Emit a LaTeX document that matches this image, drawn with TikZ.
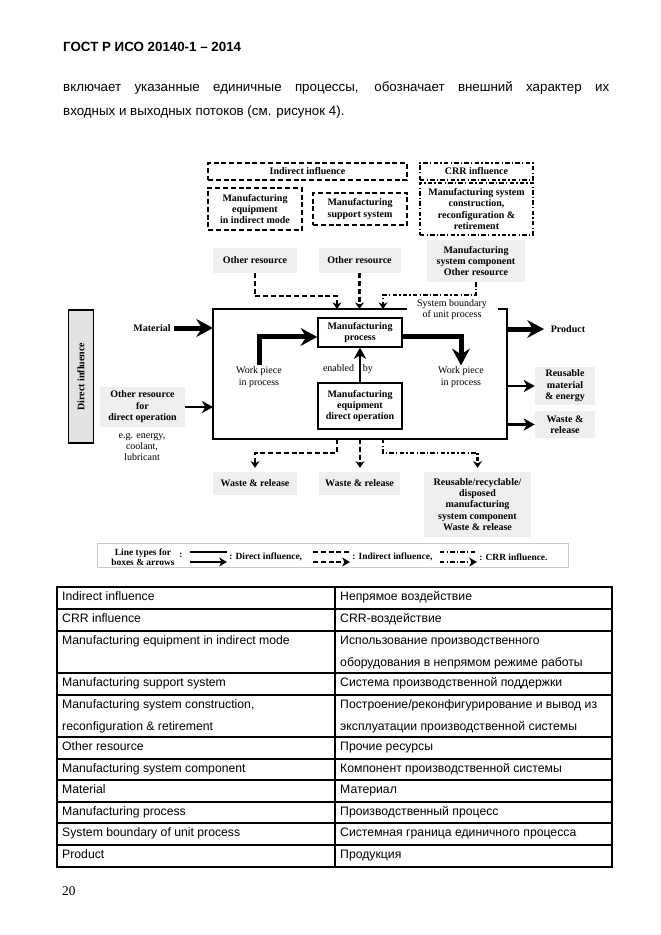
\documentclass[tikz,border=0pt]{standalone}
\usepackage{fontspec}
\setmainfont{Liberation Serif}
\newfontfamily\arialfont{Liberation Sans}
\usetikzlibrary{arrows.meta}

\definecolor{boxgray}{HTML}{EFEFEF}
\definecolor{sidegray}{HTML}{E2E2E2}
\definecolor{legendgray}{HTML}{C8C8C8}

\tikzset{
  lbl/.style={font=\fontsize{9}{10.3}\selectfont\bfseries, align=center, inner sep=1pt},
  txt/.style={font=\fontsize{9}{10.3}\selectfont, align=center, inner sep=1pt},
  graybox/.style={lbl, fill=boxgray},
  ind/.style={line width=2pt, dash pattern=on 4.5pt off 2.5pt},
  crr/.style={line width=2pt, dash pattern=on 4pt off 2pt on 1.2pt off 2pt},
  dir/.style={line width=1.6pt},
  dtip/.style={-{Stealth[length=6pt,width=8pt,inset=2pt]}},
  flow/.style={line width=4.5pt, -{Stealth[length=15pt,width=16pt,inset=5pt]}},
  midflow/.style={line width=2.5pt, -{Stealth[length=10pt,width=11pt,inset=3pt]}},
  cell/.style={font=\arialfont\fontsize{11}{13}\selectfont, anchor=base west, inner sep=0pt},
  para/.style={font=\arialfont\fontsize{12}{14}\selectfont, anchor=base west, inner sep=0pt},
}

\begin{document}
\begin{tikzpicture}[x=0.9pt,y=-0.9pt]
\fill[white] (0,0) rectangle (661,935);

% page head and text
\node[para, font=\arialfont\fontsize{12}{14}\selectfont\bfseries] (head) at (63,51) {ГОСТ Р ИСО 20140-1 – 2014};
\node[para] (par1) at (63,91.5) {\makebox[491.4pt][s]{включает указанные единичные процессы, обозначает внешний характер их}};
\node[para] (par2) at (63,115.5) {входных и выходных потоков (см. рисунок 4).};

% indirect and CRR boxes
\node[lbl, draw, ind, minimum width=179.1pt, minimum height=15.3pt] (indinf) at (307.5,171.5) {Indirect influence};
\node[lbl, draw, crr, minimum width=101.7pt, minimum height=15.3pt] (crrinf) at (476.5,171.5) {CRR influence};
\node[lbl, draw, ind, minimum width=84.6pt, minimum height=37.8pt] (meim) at (255,209) {Manufacturing\\equipment\\in indirect mode};
\node[lbl, draw, ind, minimum width=84.6pt, minimum height=28.8pt] (mss) at (360,209) {Manufacturing\\support system};
\node[lbl, draw, crr, minimum width=101.7pt, minimum height=46.8pt] (mscrr) at (476.5,209) {Manufacturing system\\construction,\\reconfiguration \&\\retirement};

\node[graybox, minimum width=75.6pt, minimum height=22.5pt] (or1) at (255,260.5) {Other resource};
\node[graybox, minimum width=73.8pt, minimum height=22.5pt] (or2) at (359.5,260.5) {Other resource};
\node[graybox, minimum width=88.2pt, minimum height=37.8pt] (msc) at (476,261) {Manufacturing\\system component\\Other resource};

% unit process
\node[minimum width=264.6pt, minimum height=117pt, outer sep=0pt] (sysbox) at (360,374) {};
\draw[line width=1.3pt] (sysbox.north west) ++(194,0) -- (sysbox.north west) -- (sysbox.south west)
  -- (sysbox.south east) -- (sysbox.north east) -- ++(-9,0);
\node[txt] (sbound) at (452,309.5) {System boundary\\of unit process};

\node[lbl, draw, line width=1.2pt, minimum width=75.6pt, minimum height=26.1pt] (mproc) at (360,332.5) {Manufacturing\\process};
\node[lbl, draw, line width=1.8pt, minimum width=75.6pt, minimum height=41.4pt] (mequip) at (360,406) {Manufacturing\\equipment\\direct operation};
\node[txt] (enab) at (348,369) {enabled\hspace{8pt}by};
\node[txt] (wp1) at (259,377) {Work piece\\in process};
\node[txt] (wp2) at (461,377) {Work piece\\in process};

\draw[midflow] (mequip.north) -- (mproc.south);
\draw[flow] (wp1.north) |- ([yshift=-4pt]mproc.west);
\draw[flow] ([yshift=-4pt]mproc.east) -| (wp2.north);

% inputs
\node[lbl] (material) at (152,328) {Material};
\node[lbl, draw, line width=1.2pt, fill=sidegray, rotate=90, minimum width=119.7pt, minimum height=22.5pt] (dirinf) at (81,376.5) {Direct influence};
\node[graybox, minimum width=76.5pt, minimum height=36pt] (ordo) at (142.5,407) {Other resource\\for\\direct operation};
\node[txt] (eg) at (142,447) {e.g. energy,\\coolant,\\lubricant};

\draw[flow, shorten <=2pt] (material.east) -- (material.east -| sysbox.west);
\draw[midflow] (ordo.east) -- (ordo.east -| sysbox.west);

% outputs
\node[lbl] (product) at (568,329) {Product};
\node[graybox, minimum width=54pt, minimum height=34.2pt] (reuse) at (565,386) {Reusable\\material\\\& energy};
\node[graybox, minimum width=54pt, minimum height=24.3pt] (waster) at (565,424.5) {Waste \&\\release};

\draw[flow, shorten >=5pt] (product.west -| sysbox.east) -- (product.west);
\draw[midflow] (reuse.west -| sysbox.east) -- (reuse.west);
\draw[midflow] (waster.west -| sysbox.east) -- (waster.west);

\node[graybox, minimum width=75.6pt, minimum height=20.7pt] (wr1) at (255,483.5) {Waste \& release};
\node[graybox, minimum width=72.9pt, minimum height=20.7pt] (wr2) at (359.5,483.5) {Waste \& release};
\node[graybox, minimum width=96.3pt, minimum height=58.5pt] (rrd) at (477.5,504.5) {Reusable/recyclable/\\disposed\\manufacturing\\system component\\Waste \& release};

% indirect and CRR connectors
\coordinate (in1) at (337,309);
\coordinate (in3) at (383,309);
\coordinate (out1) at (337,439);
\coordinate (out3) at (383,439);
\draw[ind, dtip] (or1.south) -- ++(0,23) -| (in1);
\draw[ind, dtip] (or2.south) -- (or2.south |- sysbox.north);
\draw[crr, dtip] (msc.south) -- ++(0,13) -| (in3);
\draw[ind, dtip, shorten >=3.6pt] (out1) -- ++(0,14) -| (wr1.north);
\draw[ind, dtip, shorten >=3.6pt] (sysbox.south) -- (sysbox.south |- wr2.north);
\draw[crr, dtip, shorten >=3.6pt] (out3) -- ++(0,14) -| (rrd.north);

% legend
\node[draw=legendgray, line width=0.5pt, minimum width=423.9pt, minimum height=21.6pt] (legend) at (332.5,555) {};
\node[lbl, font=\fontsize{8.5}{9.5}\selectfont\bfseries] (ltype) at (143,557) {Line types for\\boxes \& arrows};
\node[lbl, font=\fontsize{8.5}{9.5}\selectfont\bfseries] (lcolon) at (181,555) {:};
\foreach \st/\x in {dir/190, ind/313, crr/440}{
  \draw[\st] (\x,552) -- ++(37,0);
  \draw[\st, line width=2pt, -{Stealth[length=7pt,width=8pt,inset=2pt]}] (\x,562) -- ++(37,0);
}
\node[lbl, font=\fontsize{8.5}{9.5}\selectfont\bfseries, anchor=west] (ldir) at (228,557) {: Direct influence,};
\node[lbl, font=\fontsize{8.5}{9.5}\selectfont\bfseries, anchor=west] (lind) at (351,557) {: Indirect influence,};
\node[lbl, font=\fontsize{8.5}{9.5}\selectfont\bfseries, anchor=west] (lcrr) at (478,557) {: CRR influence.};

% table of terms
\draw[line width=2pt] (57,587) rectangle (612,867);
\draw[line width=2pt] (335,587) -- (335,867);
\foreach \y in {609,631,673,695,737,759,780,802,823,845}
  \draw[line width=1pt] (57,\y) -- (612,\y);
\foreach \b/\en/\ru [count=\i] in {
  600.5/Indirect influence/Непрямое воздействие,
  622.5/CRR influence/CRR-воздействие,
  644.5/Manufacturing equipment in indirect mode/Использование производственного,
  666.5//оборудования в непрямом режиме работы,
  686.5/Manufacturing support system/Система производственной поддержки,
  708.5/{Manufacturing system construction,}/{Построение/реконфигурирование и вывод из},
  730.5/reconfiguration \& retirement/эксплуатации производственной системы,
  750.5/Other resource/Прочие ресурсы,
  772.5/Manufacturing system component/Компонент производственной системы,
  793.5/Material/Материал,
  815.5/Manufacturing process/Производственный процесс,
  836.5/System boundary of unit process/Системная граница единичного процесса,
  858.5/Product/Продукция}{
  \node[cell] (en\i) at (62,\b) {\en};
  \node[cell] (ru\i) at (340,\b) {\ru};
}

\node[anchor=base west, inner sep=0pt, font=\fontsize{12}{14}\selectfont] (pageno) at (62,895) {20};
\end{tikzpicture}
\end{document}
